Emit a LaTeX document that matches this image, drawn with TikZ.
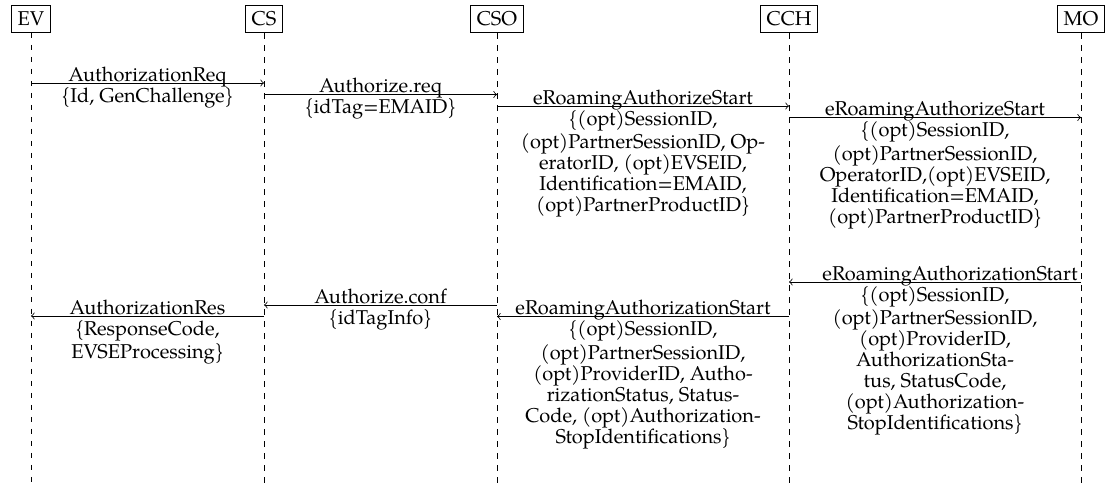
\documentclass[tikz,border=0pt]{standalone}
\usepackage{fontspec}
\setmainfont{TeX Gyre Pagella}
\usetikzlibrary{calc}

\tikzset{
  txt/.style={font=\fontsize{10}{10.5}\selectfont, inner sep=0pt},
  actor/.style={draw, font=\fontsize{10}{12}\selectfont, inner sep=3.2pt, line width=0.4pt},
  lifeline/.style={line width=0.4pt, dash pattern=on 2.8pt off 3.2pt},
  msgarrow/.style={->, line width=0.4pt},
  msgname/.style={txt, anchor=base},
  msgpar/.style={txt, anchor=north, align=center},
}

\begin{document}
\begin{tikzpicture}[x=0.5pt, y=-0.5pt]
  \useasboundingbox (0,0) rectangle (1109,484);

  % participants
  \node[actor] (EV)  at (31,19)   {EV};
  \node[actor] (CS)  at (264,19)  {CS};
  \node[actor] (CSO) at (497,19)  {CSO};
  \node[actor] (CCH) at (789,19)  {CCH};
  \node[actor] (MO)  at (1081,19) {MO};

  \coordinate (bottom) at (0,484);
  \foreach \p in {EV,CS,CSO,CCH,MO}
    \draw[lifeline] (\p.south) -- (\p |- bottom);

  % message heights
  \coordinate (m1) at (0,83);
  \coordinate (m2) at (0,94.5);
  \coordinate (m3) at (0,106);
  \coordinate (m4) at (0,117.5);
  \coordinate (m5) at (0,282);
  \coordinate (m6) at (0,305);
  \coordinate (m7) at (0,316.5);
  \coordinate (m8) at (0,316);

  % EV -> CS
  \draw[msgarrow] (EV |- m1) -- (CS |- m1);
  \node[msgname] (n1) at ($(EV |- m1)!0.5!(CS |- m1) + (0,-2)$) {AuthorizationReq};
  \node[msgpar]  (p1) at ($(EV |- m1)!0.5!(CS |- m1) + (0,4)$) {\strut\{Id, GenChallenge\}};

  % CS -> CSO
  \draw[msgarrow] (CS |- m2) -- (CSO |- m2);
  \node[msgname] (n2) at ($(CS |- m2)!0.5!(CSO |- m2) + (0,-2)$) {Authorize.req};
  \node[msgpar]  (p2) at ($(CS |- m2)!0.5!(CSO |- m2) + (0,4)$) {\strut\{idTag=EMAID\}};

  % CSO -> CCH
  \draw[msgarrow] (CSO |- m3) -- (CCH |- m3);
  \node[msgname] (n3) at ($(CSO |- m3)!0.5!(CCH |- m3) + (0,-2)$) {eRoamingAuthorizeStart};
  \node[msgpar]  (p3) at ($(CSO |- m3)!0.5!(CCH |- m3) + (0,4)$)
    {\strut\{(opt)SessionID,\\(opt)PartnerSessionID, Op-\\eratorID, (opt)EVSEID,\\Identification=EMAID,\\(opt)PartnerProductID\}};

  % CCH -> MO
  \draw[msgarrow] (CCH |- m4) -- (MO |- m4);
  \node[msgname] (n4) at ($(CCH |- m4)!0.5!(MO |- m4) + (0,-2)$) {eRoamingAuthorizeStart};
  \node[msgpar]  (p4) at ($(CCH |- m4)!0.5!(MO |- m4) + (0,4)$)
    {\strut\{(opt)SessionID,\\(opt)PartnerSessionID,\\OperatorID,(opt)EVSEID,\\Identification=EMAID,\\(opt)PartnerProductID\}};

  % MO -> CCH (the long name runs over towards the MO lifeline)
  \draw[msgarrow] (MO |- m5) -- (CCH |- m5);
  \node[msgname] (n5) at ($(CCH |- m5)!0.5!(MO |- m5) + (15,-2)$) {eRoamingAuthorizationStart};
  \node[msgpar]  (p5) at ($(CCH |- m5)!0.5!(MO |- m5) + (0,4)$)
    {\strut\{(opt)SessionID,\\(opt)PartnerSessionID,\\(opt)ProviderID,\\AuthorizationSta-\\tus, StatusCode,\\(opt)Authorization-\\StopIdentifications\}};

  % CSO -> CS
  \draw[msgarrow] (CSO |- m6) -- (CS |- m6);
  \node[msgname] (n6) at ($(CS |- m6)!0.5!(CSO |- m6) + (0,-2)$) {Authorize.conf};
  \node[msgpar]  (p6) at ($(CS |- m6)!0.5!(CSO |- m6) + (0,4)$) {\strut\{idTagInfo\}};

  % CCH -> CSO
  \draw[msgarrow] (CCH |- m7) -- (CSO |- m7);
  \node[msgname] (n7) at ($(CSO |- m7)!0.5!(CCH |- m7) + (0,-2)$) {eRoamingAuthorizationStart};
  \node[msgpar]  (p7) at ($(CSO |- m7)!0.5!(CCH |- m7) + (0,4)$)
    {\strut\{(opt)SessionID,\\(opt)PartnerSessionID,\\(opt)ProviderID, Autho-\\rizationStatus, Status-\\Code, (opt)Authorization-\\StopIdentifications\}};

  % CS -> EV
  \draw[msgarrow] (CS |- m8) -- (EV |- m8);
  \node[msgname] (n8) at ($(EV |- m8)!0.5!(CS |- m8) + (0,-2)$) {AuthorizationRes};
  \node[msgpar]  (p8) at ($(EV |- m8)!0.5!(CS |- m8) + (0,4)$) {\strut\{ResponseCode,\\EVSEProcessing\}};
\end{tikzpicture}
\end{document}
